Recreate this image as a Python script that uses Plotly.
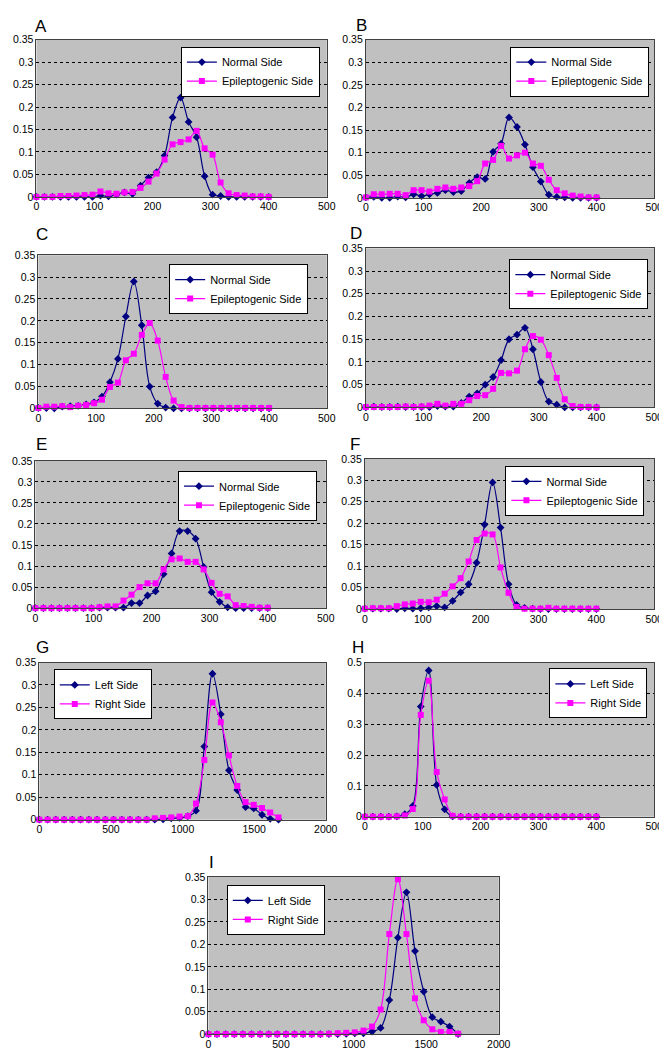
import plotly.graph_objects as go

W, H = 667, 1050

# ---------------- data ----------------
x_400 = [0, 13.8, 27.6, 41.4, 55.2, 69.0, 82.8, 96.6, 110.3, 124.1, 137.9, 151.7, 165.5, 179.3, 193.1,
         206.9, 220.7, 234.5, 248.3, 262.1, 275.9, 289.7, 303.4, 317.2, 331.0, 344.8, 358.6, 372.4, 386.2, 400]
x_g = [0, 58, 115, 173, 230, 288, 346, 403, 461, 518, 576, 633, 691, 749, 806, 864, 921, 979, 1037, 1094,
       1152, 1209, 1267, 1324, 1382, 1440, 1497, 1555, 1612, 1670]
x_i = [0, 59, 119, 178, 237, 297, 356, 415, 474, 534, 593, 652, 712, 771, 830, 890, 949, 1008, 1068, 1127,
       1186, 1246, 1305, 1364, 1423, 1483, 1542, 1601, 1661, 1720]

a_normal = [0, 0, 0, 0, 0, 0, 0, 0, 0.003, 0.001, 0.005, 0.01, 0.007, 0.025, 0.043, 0.055, 0.092, 0.177,
            0.221, 0.167, 0.133, 0.046, 0.005, 0.002, 0, 0, 0, 0, 0, 0]
a_epi = [0, 0, 0, 0.002, 0.002, 0.003, 0.004, 0.005, 0.012, 0.008, 0.007, 0.01, 0.011, 0.02, 0.034, 0.052,
         0.083, 0.117, 0.122, 0.128, 0.147, 0.108, 0.094, 0.032, 0.008, 0.004, 0.003, 0.001, 0.001, 0]

b_normal = [0.001, 0.002, 0, 0, 0.003, 0.001, 0.008, 0.004, 0.008, 0.011, 0.017, 0.013, 0.015, 0.033, 0.046,
            0.042, 0.102, 0.12, 0.178, 0.157, 0.118, 0.068, 0.036, 0.007, 0.002, 0.001, 0, 0, 0, 0]
b_epi = [0.001, 0.008, 0.008, 0.009, 0.009, 0.006, 0.017, 0.017, 0.014, 0.02, 0.023, 0.02, 0.023, 0.026,
         0.037, 0.076, 0.084, 0.115, 0.087, 0.094, 0.1, 0.076, 0.071, 0.04, 0.017, 0.01, 0.005, 0.003, 0.001, 0.001]

c_normal = [0.001, 0.001, 0, 0.004, 0.005, 0.006, 0.009, 0.014, 0.027, 0.06, 0.113, 0.21, 0.29, 0.19, 0.05,
            0.011, 0.002, 0, 0, 0, 0, 0, 0, 0, 0, 0, 0, 0, 0, 0]
c_epi = [0.001, 0.004, 0.004, 0.005, 0.003, 0.006, 0.008, 0.012, 0.02, 0.049, 0.059, 0.11, 0.125, 0.168,
         0.195, 0.155, 0.072, 0.018, 0.003, 0.001, 0.001, 0.001, 0.001, 0.001, 0.001, 0.001, 0.001, 0.001, 0.001, 0.001]

d_normal = [0, 0.002, 0.001, 0.001, 0.002, 0.001, 0.001, 0.001, 0.001, 0.003, 0.002, 0.002, 0.01, 0.024,
            0.031, 0.05, 0.067, 0.104, 0.15, 0.16, 0.175, 0.128, 0.056, 0.013, 0.006, 0, 0, 0, 0, 0]
d_epi = [0.001, 0.001, 0.001, 0.001, 0.001, 0.002, 0.001, 0.002, 0.004, 0.008, 0.004, 0.008, 0.008, 0.016,
         0.025, 0.027, 0.041, 0.076, 0.075, 0.081, 0.128, 0.157, 0.149, 0.115, 0.065, 0.018, 0.003, 0.001, 0.001, 0]

e_normal = [0, 0, 0, 0, 0, 0, 0, 0, 0.001, 0.001, 0.001, 0.001, 0.012, 0.012, 0.03, 0.04, 0.081, 0.13,
            0.183, 0.183, 0.165, 0.098, 0.038, 0.015, 0.002, 0, 0, 0, 0, 0]
e_epi = [0, 0, 0, 0, 0, 0, 0, 0, 0.002, 0.004, 0.004, 0.018, 0.032, 0.05, 0.059, 0.059, 0.092, 0.116,
         0.118, 0.11, 0.11, 0.092, 0.06, 0.034, 0.028, 0.007, 0.005, 0.003, 0.001, 0.001]

f_normal = [0.001, 0.001, 0.001, 0.001, 0, 0.002, 0.001, 0.002, 0.004, 0.007, 0.004, 0.019, 0.039, 0.058,
            0.108, 0.197, 0.295, 0.19, 0.058, 0.01, 0.003, 0.001, 0, 0, 0, 0, 0, 0, 0, 0]
f_epi = [0.001, 0.002, 0.002, 0.002, 0.007, 0.011, 0.013, 0.017, 0.016, 0.022, 0.036, 0.053, 0.072, 0.111,
         0.161, 0.176, 0.174, 0.097, 0.038, 0.005, 0.001, 0.001, 0.001, 0.003, 0.001, 0.001, 0.001, 0.001, 0.001, 0.001]

g_left = [0, 0, 0, 0, 0, 0, 0, 0, 0, 0, 0, 0, 0, 0, 0, 0.001, 0.003, 0.004, 0.008, 0.02, 0.163, 0.325,
          0.235, 0.11, 0.066, 0.028, 0.025, 0.011, 0.002, 0]
g_right = [0, 0, 0, 0, 0, 0, 0, 0, 0, 0, 0, 0, 0, 0, 0.003, 0.004, 0.005, 0.007, 0.008, 0.036, 0.133,
           0.261, 0.217, 0.143, 0.075, 0.039, 0.033, 0.026, 0.016, 0.005]

h_left = [0, 0, 0, 0, 0.001, 0.008, 0.035, 0.357, 0.474, 0.103, 0.024, 0.001, 0, 0, 0, 0, 0, 0, 0, 0,
          0, 0, 0, 0, 0, 0, 0, 0, 0, 0]
h_right = [0, 0, 0, 0, 0.001, 0.004, 0.025, 0.33, 0.441, 0.145, 0.056, 0.003, 0, 0, 0, 0, 0, 0, 0, 0,
           0, 0, 0, 0, 0, 0, 0, 0, 0, 0]

i_left = [0, 0, 0, 0, 0, 0, 0, 0, 0, 0, 0, 0, 0, 0, 0, 0, 0.001, 0.002, 0.002, 0.006, 0.014, 0.076, 0.215,
          0.316, 0.185, 0.095, 0.038, 0.028, 0.017, 0]
i_right = [0, 0, 0, 0, 0, 0, 0, 0, 0, 0, 0, 0, 0, 0, 0.001, 0.002, 0.003, 0.004, 0.008, 0.017, 0.055,
           0.223, 0.345, 0.223, 0.08, 0.031, 0.011, 0.005, 0.005, 0.001]

names_ne = ["Normal Side", "Epileptogenic Side"]
names_lr = ["Left Side", "Right Side"]

# panel: letter, x, series1, series2, names, xmax, xdtick, ymax, ydtick,
#        plot box (l, t, r, b) px, legend (right, top) px, letter (x, y) px
panels = [
    ("A", x_400, a_normal, a_epi, names_ne, 500, 100, 0.35, 0.05, (26, 26, 323, 185), (316, 33), (22, 13)),
    ("B", x_400, b_normal, b_epi, names_ne, 500, 100, 0.35, 0.05, (363, 26, 658, 186), (653, 33), (351, 12)),
    ("C", x_400, c_normal, c_epi, names_ne, 500, 100, 0.35, 0.05, (28, 244, 323, 399), (304, 253), (24, 223)),
    ("D", x_400, d_normal, d_epi, names_ne, 500, 100, 0.35, 0.05, (363, 237, 658, 398), (652, 248), (345, 222)),
    ("E", x_400, e_normal, e_epi, names_ne, 500, 100, 0.35, 0.05, (25, 452, 322, 601), (313, 462), (24, 435)),
    ("F", x_400, f_normal, f_epi, names_ne, 500, 100, 0.35, 0.05, (362, 450, 658, 602), (648, 457), (345, 435)),
    ("G", x_g, g_left, g_right, names_lr, 2000, 500, 0.35, 0.05, (29, 656, 322, 815), (144, 663), (24, 641)),
    ("H", x_400, h_left, h_right, names_lr, 500, 100, 0.5, 0.1, (362, 656, 658, 812), (651, 662), (347, 641)),
    ("I", x_i, i_left, i_right, names_lr, 2000, 500, 0.35, 0.05, (202, 873, 499, 1032), (321, 881), (200, 858)),
]

NAVY = "#000080"
MAGENTA = "#FF00FF"
FONT = "Liberation Sans, Arial, sans-serif"

fig = go.Figure()
layout = dict(
    width=W, height=H, margin=dict(l=0, r=0, t=0, b=0),
    paper_bgcolor="white", plot_bgcolor="#C0C0C0",
    font=dict(family=FONT, size=10, color="black"),
    annotations=[],
)

for k, (letter, xs, s1, s2, names, xmax, xdt, ymax, ydt, box, leg, lab) in enumerate(panels):
    n = k + 1
    sfx = "" if n == 1 else str(n)
    lname = "legend" if n == 1 else f"legend{n}"
    l, t, r, b = box
    fig.add_trace(go.Scatter(
        x=xs, y=s1, name=names[0], mode="lines+markers", line_shape="spline",
        line=dict(color=NAVY, width=1.2, smoothing=1.0),
        marker=dict(symbol="diamond", size=6, color=NAVY),
        xaxis="x" + sfx, yaxis="y" + sfx, legend=lname, cliponaxis=False,
    ))
    fig.add_trace(go.Scatter(
        x=xs, y=s2, name=names[1], mode="lines+markers", line_shape="spline",
        line=dict(color=MAGENTA, width=1.2, smoothing=1.0),
        marker=dict(symbol="square", size=6, color=MAGENTA),
        xaxis="x" + sfx, yaxis="y" + sfx, legend=lname, cliponaxis=False,
    ))
    layout["xaxis" + sfx] = dict(
        domain=[l / W, r / W], anchor="y" + sfx, range=[0, xmax], dtick=xdt, tick0=0,
        showgrid=False, zeroline=False, showline=True, linecolor="#404040", linewidth=1,
        mirror=True, ticks="", tickfont=dict(size=10.5), fixedrange=True,
    )
    layout["yaxis" + sfx] = dict(
        domain=[1 - b / H, 1 - t / H], anchor="x" + sfx, range=[0, ymax], dtick=ydt, tick0=0,
        showgrid=True, gridcolor="black", griddash="dot", gridwidth=1,
        zeroline=False, showline=True, linecolor="#404040", linewidth=1, mirror=True,
        ticks="", tickfont=dict(size=10.5), fixedrange=True,
    )
    layout[lname] = dict(
        x=leg[0] / W, y=1 - leg[1] / H, xanchor="right", yanchor="top",
        bgcolor="white", bordercolor="black", borderwidth=1,
        font=dict(family=FONT, size=11, color="black"), tracegroupgap=0,
    )
    layout["annotations"].append(dict(
        text=letter, x=lab[0] / W, y=1 - lab[1] / H, xref="paper", yref="paper",
        xanchor="left", yanchor="middle", showarrow=False,
        font=dict(family=FONT, size=17, color="black"),
    ))

fig.update_layout(**layout)
fig.write_html("out.html")
